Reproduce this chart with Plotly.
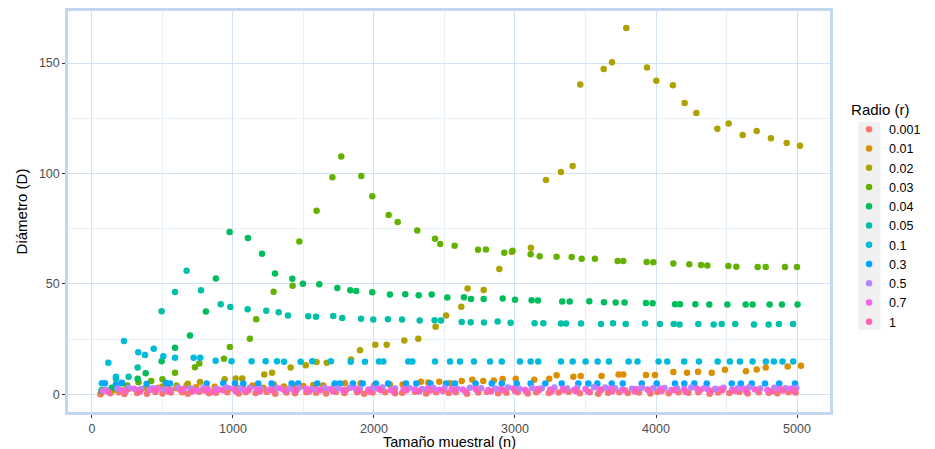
import plotly.graph_objects as go

# ---- data: (n, D) pairs per radius ----
radios = ["0.001", "0.01", "0.02", "0.03", "0.04", "0.05", "0.1", "0.3", "0.5", "0.7", "1"]
colores = ["#F8766D", "#DB8E00", "#AEA200", "#64B200", "#00BD5C", "#00C1A7",
           "#00BADE", "#00A6FF", "#B385FF", "#EF67EB", "#FF63B6"]

s_0001 = [(60,0.0),(130,0.5),(190,1.0),(230,0.2),(320,0.6),(390,0.3),(450,1.1),(500,0.4),(560,0.8),
          (640,0.9),(680,0.3),(760,1.2),(830,0.5),(880,0.7),(960,1.0),(1040,0.4),(1090,0.9),(1160,0.6),
          (1240,1.1),(1300,0.3),(1380,0.8),(1440,0.5),(1520,1.0),(1590,0.7),(1660,0.4),(1730,1.1),
          (1790,0.6),(1880,0.9),(1930,0.3),(1990,0.8),(2080,1.0),(2150,0.5),(2200,0.7),(2290,1.2),
          (2370,0.4),(2440,0.9),(2530,0.6),(2580,1.0),(2660,0.3),(2740,0.8),(2800,1.1),(2880,0.5),
          (2940,0.7),(3020,0.9),(3090,0.4),(3150,1.0),(3240,0.6),(3310,0.8),(3380,1.2),(3460,0.5),
          (3530,0.9),(3590,0.3),(3660,0.7),(3740,1.0),(3800,0.6),(3880,0.8),(3960,0.4),(4010,1.1),
          (4090,0.5),(4160,0.9),(4230,0.7),(4300,1.0),(4380,0.3),(4440,0.8),(4520,0.6),(4590,1.1),
          (4650,0.4),(4730,0.9),(4800,0.7),(4860,0.5),(4940,1.0),(4990,0.8)]

s_001 = [(70,1.0),(140,1.5),(200,2.0),(260,2.5),(330,1.8),(400,2.2),(470,3.0),(540,2.4),(600,2.8),
         (671,4.0),(740,3.2),(800,3.0),(870,3.4),(967,2.6),(1026,3.0),(1073,2.5),(1140,4.0),(1215,3.0),
         (1290,4.5),(1360,3.5),(1428,3.8),(1499,3.8),(1570,4.2),(1640,4.0),(1720,4.5),(1794,5.0),
         (1905,5.0),(2002,4.1),(2113,4.5),(2203,4.5),(2333,5.7),(2385,5.4),(2463,5.7),(2540,5.0),
         (2622,6.0),(2697,6.6),(2775,6.0),(2850,6.3),(2913,6.9),(3005,7.1),(3137,6.6),(3243,7.1),
         (3295,8.6),(3414,8.0),(3466,8.3),(3614,8.3),(3735,9.0),(3768,9.0),(3929,8.7),(3993,8.7),
         (4123,10.1),(4220,9.8),(4298,10.2),(4395,9.8),(4489,11.1),(4638,10.5),(4714,11.3),
         (4778,12.2),(4934,12.6),(5028,13.0)]

s_002 = [(70,1.5),(150,2.0),(250,2.5),(380,3.0),(500,3.5),(600,4.0),(680,4.8),(766,5.6),(941,6.8),
         (1019,7.2),(1066,7.2),(1222,9.0),(1277,9.8),(1409,12.2),(1516,13.2),(1593,14.6),(1665,14.3),
         (1837,15.8),(1901,20.0),(2009,22.4),(2090,22.4),(2215,24.4),(2314,25.2),(2437,30.6),
         (2511,35.7),(2619,39.7),(2664,47.9),(2778,47.3),(2889,56.8),(2977,64.5),(3113,66.4),
         (3220,97.1),(3326,100.7),(3409,103.4),(3463,140.3),(3629,147.3),(3688,150.4),(3789,165.9),
         (3936,148.0),(4002,142.0),(4120,140.0),(4203,131.9),(4286,127.4),(4435,120.3),(4515,122.7),
         (4615,117.4),(4714,119.2),(4815,116.0),(4927,113.8),(5021,112.6)]

s_003 = [(80,2.0),(160,3.0),(250,4.0),(330,5.5),(420,6.0),(500,6.8),(589,9.8),(730,12.3),(761,14.0),
         (936,16.1),(978,21.4),(1120,25.2),(1165,34.0),(1288,46.5),(1423,49.2),(1471,69.2),(1593,83.1),
         (1705,98.3),(1768,107.7),(1910,98.9),(1988,89.7),(2104,81.2),(2168,78.1),(2307,74.2),
         (2433,70.5),(2470,68.1),(2572,67.3),(2738,65.5),(2794,65.6),(2924,64.1),(2983,65.0),
         (3111,63.4),(3175,62.5),(3295,62.3),(3402,62.2),(3473,61.4),(3567,61.4),(3728,60.4),
         (3768,60.4),(3934,59.9),(3981,59.8),(4123,59.2),(4236,58.9),(4319,58.6),(4364,58.4),
         (4513,58.1),(4570,57.8),(4721,57.7),(4778,57.7),(4915,57.7),(5000,57.7)]

s_004 = [(69,1.8),(140,3.0),(213,5.0),(324,7.1),(381,9.5),(494,15.0),(589,21.1),(695,26.7),(808,37.5),
         (879,52.5),(976,73.5),(1106,70.8),(1206,63.7),(1298,54.7),(1421,52.3),(1496,50.1),(1612,49.8),
         (1740,48.2),(1832,47.1),(1874,46.8),(1988,46.2),(2113,45.2),(2222,45.3),(2317,44.9),
         (2409,45.2),(2520,43.8),(2638,44.0),(2688,43.2),(2778,43.2),(2913,43.4),(3000,42.8),
         (3118,42.6),(3163,42.5),(3335,42.0),(3388,42.0),(3527,42.2),(3631,41.7),(3714,41.6),
         (3777,41.6),(3929,41.4),(3976,41.2),(4135,40.8),(4170,40.8),(4279,40.8),(4378,40.7),
         (4506,40.7),(4636,40.7),(4685,40.7),(4806,40.7),(4893,40.7),(5004,40.7)]

s_005 = [(70,1.5),(170,7.1),(260,8.0),(324,12.2),(494,37.6),(589,46.4),(671,56.0),(773,47.1),
         (913,40.8),(981,39.6),(1104,38.5),(1236,37.8),(1324,37.2),(1390,35.7),(1534,35.4),
         (1589,35.1),(1711,35.5),(1775,34.6),(1908,34.2),(1995,33.9),(2099,34.0),(2199,33.9),
         (2324,33.4),(2430,33.6),(2475,33.4),(2622,32.8),(2686,32.7),(2780,32.5),(2877,33.0),
         (2969,32.4),(3139,32.2),(3201,32.2),(3326,32.1),(3362,32.1),(3468,32.1),(3610,31.9),
         (3695,32.2),(3785,31.9),(3922,32.1),(4028,31.8),(4126,31.8),(4167,31.6),(4300,31.8),
         (4409,31.6),(4466,31.8),(4562,31.8),(4695,31.6),(4799,31.6),(4872,31.8),(4972,31.8)]

s_01 = [(70,5.0),(116,14.3),(170,8.0),(227,24.1),(328,19.1),(376,17.8),(438,20.6),(506,17.2),
        (589,16.6),(721,16.6),(768,16.6),(877,15.2),(990,15.0),(1132,15.0),(1232,15.0),(1312,15.0),
        (1362,14.8),(1480,14.8),(1562,15.0),(1695,15.0),(1835,14.8),(1936,14.8),(2035,14.9),
        (2066,14.9),(2243,14.9),(2272,14.9),(2433,14.9),(2539,14.9),(2610,14.9),(2709,14.9),
        (2823,14.9),(2906,14.9),(3035,14.9),(3111,14.9),(3165,14.9),(3326,14.9),(3409,14.9),
        (3501,14.9),(3586,14.9),(3666,14.9),(3806,14.9),(3869,14.9),(4018,14.9),(4080,14.9),
        (4200,14.9),(4305,14.9),(4437,14.9),(4524,14.9),(4595,14.9),(4685,14.9),(4779,14.9),
        (4836,14.9),(4897,14.9),(4973,14.9)]

s_03 = [(92,5.0),(170,4.6),(211,5.2),(388,4.8),(525,5.1),(553,4.9),(813,4.9),(931,5.0),(1014,4.9),
        (1073,4.9),(1179,4.9),(1274,4.9),(1416,4.9),(1463,4.9),(1598,4.9),(1723,4.9),(1759,4.9),
        (1850,4.9),(1920,4.9),(2014,4.9),(2100,4.9),(2227,4.9),(2300,4.9),(2400,4.9),(2511,4.9),
        (2574,4.9),(2721,4.9),(2835,4.9),(2906,4.9),(3012,4.9),(3111,4.9),(3215,4.9),(3331,4.9),
        (3449,4.9),(3520,4.9),(3584,4.9),(3686,4.9),(3764,4.9),(3899,4.9),(4005,4.9),(4135,4.9),
        (4201,4.9),(4272,4.9),(4360,4.9),(4537,4.9),(4601,4.9),(4679,4.9),(4773,4.9),(4874,4.9),
        (4986,4.9)]

s_05 = [(100,2.0),(180,2.6),(260,3.0),(350,2.4),(430,2.8),(520,2.2),(610,3.0),(700,2.6),(790,2.9),
        (880,2.4),(950,3.1),(1050,2.7),(1120,3.0),(1200,2.5),(1310,2.9),(1400,2.6),(1470,3.1),
        (1560,2.4),(1650,2.9),(1740,2.7),(1830,3.0),(1900,2.5),(1990,2.8),(2060,3.1),(2150,2.6),
        (2250,2.9),(2340,2.4),(2420,3.0),(2500,2.7),(2590,2.5),(2680,3.0),(2760,2.8),(2860,2.6),
        (2950,3.1),(3030,2.5),(3120,2.9),(3190,2.7),(3280,3.1),(3370,2.6),(3440,3.0),(3560,3.2),
        (3640,3.1),(3710,2.8),(3830,2.5),(3900,3.0),(3980,2.7),(4060,2.9),(4150,2.6),(4250,3.1),
        (4340,2.8),(4420,2.5),(4480,3.0),(4580,2.7),(4660,3.2),(4740,2.6),(4840,3.0),(4920,2.7),
        (4995,2.9)]

s_07 = [(80,1.5),(210,2.0),(300,2.5),(410,2.0),(470,2.6),(560,2.1),(650,2.4),(740,1.9),(820,2.5),
        (900,2.2),(1000,2.6),(1080,2.0),(1170,2.4),(1260,2.2),(1340,2.6),(1430,2.0),(1520,2.5),
        (1600,2.2),(1690,2.4),(1780,2.0),(1870,2.6),(1960,2.2),(2030,2.5),(2120,2.0),(2210,2.4),
        (2290,2.3),(2380,2.6),(2460,2.1),(2550,2.4),(2630,2.2),(2720,2.5),(2810,2.0),(2900,2.4),
        (2990,2.6),(3070,2.1),(3160,2.4),(3250,2.2),(3340,2.5),(3420,2.0),(3500,2.4),(3600,2.3),
        (3680,2.6),(3760,2.1),(3860,2.4),(3940,2.2),(4030,2.5),(4110,2.0),(4200,2.4),(4290,2.6),
        (4370,2.2),(4460,2.4),(4540,2.1),(4620,2.5),(4700,2.3),(4790,2.0),(4880,2.4),(4960,2.6)]

s_1 = [(120,1.0),(240,1.5),(340,1.2),(450,1.8),(540,1.4),(630,1.9),(710,1.3),(800,1.7),(860,1.2),
       (930,1.8),(1020,1.4),(1110,1.9),(1190,1.3),(1280,1.7),(1370,1.5),(1450,1.9),(1540,1.3),
       (1620,1.8),(1710,1.4),(1800,1.9),(1890,1.5),(1970,1.2),(2050,1.8),(2140,1.4),(2230,1.9),
       (2320,1.3),(2400,1.7),(2490,1.5),(2570,1.9),(2650,1.2),(2730,1.8),(2830,1.4),(2920,1.9),
       (3000,1.5),(3080,1.3),(3170,1.8),(3260,1.4),(3350,1.9),(3430,1.5),(3520,1.2),(3610,1.8),
       (3690,1.4),(3780,1.9),(3850,1.3),(3950,1.7),(4040,1.5),(4130,1.9),(4210,1.2),(4310,1.8),
       (4390,1.4),(4470,1.9),(4560,1.5),(4640,1.3),(4720,1.8),(4820,1.4),(4900,1.7),(4980,1.5)]

series = [s_0001, s_001, s_002, s_003, s_004, s_005, s_01, s_03, s_05, s_07, s_1]

x_ticks = [0, 1000, 2000, 3000, 4000, 5000]
y_ticks = [0, 50, 100, 150]

FONT = "Liberation Sans, Arial, sans-serif"
GRID = "#d3e2f4"
GRID_MINOR = "#e7eff9"
BORDER = "#c3d7ee"

fig = go.Figure()
for name, col, pts in zip(radios, colores, series):
    fig.add_trace(go.Scatter(
        x=[p[0] for p in pts], y=[p[1] for p in pts],
        mode="markers", name=name,
        marker=dict(color=col, size=6.5, line=dict(width=0)),
    ))

# grey legend key background (ggplot style)
fig.add_shape(type="rect", xref="paper", yref="paper",
              x0=1.037, x1=1.066, y0=0.206, y1=0.724,
              fillcolor="#f0f0f0", line=dict(width=0), layer="below")

# x-axis title as annotation (kept clear of tick labels)
fig.add_annotation(text="Tamaño muestral (n)", xref="paper", yref="paper",
                   x=0.5, y=-0.074, xanchor="center", yanchor="middle",
                   showarrow=False, font=dict(size=14.5, color="#000000", family=FONT))

fig.update_layout(
    width=935, height=449,
    margin=dict(l=68, r=105, t=11, b=37, autoexpand=False),
    paper_bgcolor="white", plot_bgcolor="white",
    font=dict(family=FONT, color="#000000"),
    showlegend=True,
    legend=dict(
        title=dict(text="Radio (r)", font=dict(size=15, color="#000000")),
        font=dict(size=12.5, color="#000000"),
        x=1.025, xanchor="left", y=0.79, yanchor="top",
        bgcolor="rgba(0,0,0,0)", borderwidth=0,
    ),
    xaxis=dict(
        range=[-170, 5234], tickvals=x_ticks, ticktext=[str(v) for v in x_ticks],
        showgrid=True, gridcolor=GRID, gridwidth=1.3, zeroline=False,
        minor=dict(dtick=500, tick0=0, showgrid=True, gridcolor=GRID_MINOR, gridwidth=1, ticks=""),
        showline=True, mirror=True, linecolor=BORDER, linewidth=2.5,
        ticks="outside", ticklen=3, tickcolor="#333333", tickwidth=1,
        tickfont=dict(size=12.5, color="#4d4d4d", family=FONT),
        automargin=False,
    ),
    yaxis=dict(
        range=[-8.0, 173.6], tickvals=y_ticks, ticktext=[str(v) for v in y_ticks],
        showgrid=True, gridcolor=GRID, gridwidth=1.3, zeroline=False,
        minor=dict(dtick=25, tick0=0, showgrid=True, gridcolor=GRID_MINOR, gridwidth=1, ticks=""),
        showline=True, mirror=True, linecolor=BORDER, linewidth=2.5,
        ticks="outside", ticklen=3, tickcolor="#333333", tickwidth=1,
        tickfont=dict(size=12.5, color="#4d4d4d", family=FONT),
        automargin=False,
        title=dict(text="Diámetro (D)", font=dict(size=15, color="#000000", family=FONT), standoff=8),
    ),
)

fig.write_html("out.html")
